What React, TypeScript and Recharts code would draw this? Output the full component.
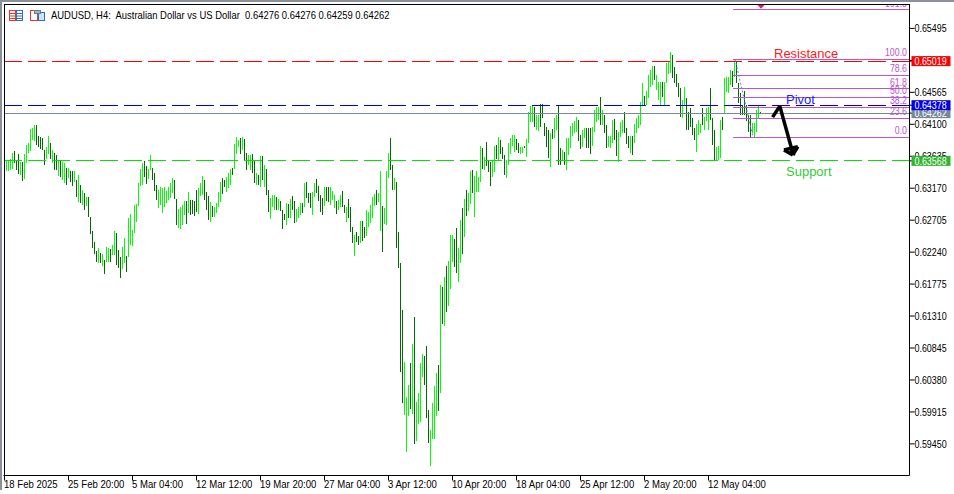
import React from 'react';
import {
  Bar,
  Cell,
  ComposedChart,
  ReferenceDot,
  ReferenceLine,
  XAxis,
  YAxis,
} from 'recharts';

// bar tops and bottoms in points (1 point = 0.00001), oldest first
const HIGH_POINTS = [
  63581, 63581, 63595, 63682, 63711, 63581, 63668, 63552, 63552, 63668,
  63798, 63827, 64030, 64045, 64088, 64088, 63929, 63914, 63900, 63726,
  63769, 63929, 63827, 63726, 63682, 63653, 63581, 63566, 63552, 63537,
  63465, 63465, 63421, 63421, 63421, 63291, 63363, 63218, 63146, 63102,
  63044, 63044, 62754, 62551, 62392, 62261, 62305, 62232, 62218, 62131,
  62319, 62305, 62290, 62348, 62551, 62522, 62276, 62174, 62319, 62450,
  62189, 62740, 62798, 62566, 62928, 62943, 63247, 63450, 63537, 63566,
  63494, 63450, 63653, 63465, 63392, 63218, 63146, 63189, 63175, 63189,
  63131, 63189, 63247, 63320, 63291, 63015, 62870, 62899, 62928, 62986,
  62986, 63117, 63001, 63001, 62986, 63146, 63175, 63247, 63349, 63291,
  63117, 63059, 62972, 62914, 62899, 62957, 63117, 63262, 63320, 63291,
  63334, 63392, 63450, 63465, 63813, 63914, 63871, 63900, 63914, 63885,
  63682, 63653, 63653, 63668, 63581, 63392, 63363, 63639, 63639, 63508,
  63450, 63146, 63030, 63073, 63073, 63044, 63015, 62986, 62856, 62798,
  62957, 62943, 63015, 63059, 62986, 62870, 62899, 62957, 62957, 63247,
  63262, 63102, 63102, 63117, 63247, 63305, 63204, 63073, 63030, 63189,
  63189, 63189, 63189, 63131, 63073, 62986, 63001, 63073, 63131, 62928,
  62899, 63015, 62899, 62609, 62493, 62537, 62479, 62696, 62696, 62609,
  62856, 62827, 62928, 63044, 63088, 63146, 63102, 63421, 62914, 62885,
  63421, 63682, 63900, 63508, 63320, 63262, 62537, 62087, 61391, 60637,
  60130, 60304, 60623, 60898, 61290, 60058, 60188, 60623, 60753, 60724,
  60869, 59941, 59651, 60043, 60289, 60478, 60594, 61768, 61739, 61884,
  62044, 62117, 62493, 62493, 62435, 62595, 62305, 62711, 62885, 63015,
  63146, 63102, 63421, 63436, 63349, 63421, 63334, 63784, 63755, 63624,
  63842, 63581, 63552, 63581, 63784, 63798, 63914, 63871, 63769, 63653,
  63581, 63827, 63900, 63943, 63943, 63885, 63827, 63769, 63769, 63784,
  63885, 64277, 64364, 64379, 64349, 64233, 64233, 64393, 64393, 64117,
  64059, 64016, 63972, 64030, 64190, 64233, 64364, 63755, 63726, 63697,
  63900, 63900, 64074, 64117, 64146, 64204, 64161, 63943, 64016, 64045,
  64045, 64045, 64045, 64059, 64306, 64349, 64349, 64494, 64306, 64233,
  64088, 63929, 63929, 64161, 64175, 64016, 63987, 64132, 64161, 64277,
  64045, 63929, 63929, 63929, 64103, 64190, 64233, 64422, 64697, 64509,
  64581, 64813, 64886, 64944, 64944, 64813, 64712, 64712, 64712, 64712,
  64987, 65016, 65147, 65103, 64929, 64828, 64697, 64625, 64451, 64639,
  64480, 64277, 64335, 64190, 64045, 64103, 64161, 64103, 64335, 64204,
  64335, 64349, 64625, 64190, 64016, 63769, 63784, 64161, 64204, 64770,
  64784, 64784, 64886, 64871, 65002, 65002, 64697, 64552, 64379, 64581,
  64379, 64233, 64233, 64117, 64117, 64306, 64379, 64276,
];
const LOW_POINTS = [
  63421, 63421, 63436, 63450, 63537, 63436, 63378, 63363, 63276, 63305,
  63537, 63682, 63711, 63871, 63856, 63798, 63769, 63740, 63726, 63508,
  63595, 63668, 63595, 63537, 63436, 63436, 63349, 63334, 63291, 63247,
  63218, 63320, 63262, 63204, 63262, 63044, 62972, 62957, 62928, 62856,
  62914, 62754, 62508, 62305, 62218, 62102, 62087, 62087, 62044, 61928,
  62102, 62102, 62102, 62203, 62203, 62058, 62015, 61870, 62000, 62087,
  61957, 62174, 62348, 62334, 62522, 62682, 62914, 63204, 63218, 63334,
  63233, 63305, 63436, 63291, 63131, 63001, 62885, 62928, 62812, 62899,
  62957, 63001, 63030, 63102, 63015, 62638, 62595, 62580, 62638, 62783,
  62653, 62812, 62783, 62798, 62769, 62827, 62798, 63059, 63073, 63001,
  62856, 62711, 62682, 62754, 62754, 62812, 62899, 62972, 63088, 63189,
  63117, 63175, 63218, 63363, 63450, 63668, 63769, 63668, 63726, 63566,
  63436, 63508, 63436, 63392, 63247, 63218, 63218, 63189, 63291, 63189,
  63073, 62827, 62725, 62899, 62856, 62856, 62856, 62841, 62580, 62711,
  62638, 62740, 62740, 62856, 62667, 62682, 62740, 62783, 62812, 62899,
  63030, 62957, 62885, 62783, 63044, 63102, 62986, 62827, 62783, 62914,
  62986, 62972, 62928, 63001, 62885, 62798, 62856, 62899, 62899, 62812,
  62682, 62740, 62537, 62377, 62189, 62392, 62348, 62377, 62406, 62450,
  62479, 62609, 62667, 62740, 62914, 62928, 62972, 62551, 62247, 62653,
  62638, 63320, 63436, 63146, 63146, 62305, 62015, 60492, 60043, 59869,
  59332, 59855, 59956, 59883, 59449, 59492, 59738, 59767, 60420, 60304,
  59826, 59463, 59130, 59521, 59521, 59855, 59927, 60188, 61189, 61159,
  61362, 61449, 61710, 62102, 62029, 61943, 61812, 62087, 62218, 62464,
  62769, 62841, 62943, 63102, 62754, 63117, 63117, 63262, 63450, 63436,
  63494, 63407, 63204, 63334, 63407, 63595, 63581, 63668, 63595, 63363,
  63320, 63508, 63668, 63784, 63697, 63726, 63682, 63668, 63682, 63755,
  63624, 63827, 64132, 64132, 64059, 64016, 64001, 64059, 64190, 63929,
  63769, 63610, 63479, 63885, 63900, 64016, 63508, 63508, 63581, 63508,
  63436, 63653, 63755, 63929, 63972, 63987, 63856, 63740, 63769, 63900,
  63755, 63755, 63668, 63784, 63987, 64132, 64161, 64088, 64088, 63972,
  63755, 63769, 63755, 63827, 63871, 63639, 63552, 63914, 63972, 63972,
  63813, 63755, 63682, 63653, 63827, 63972, 64045, 64088, 64379, 64379,
  64379, 64480, 64639, 64668, 64741, 64596, 64451, 64379, 64494, 64379,
  64697, 64828, 64842, 64770, 64697, 64639, 64494, 64204, 64190, 64379,
  64016, 64016, 64059, 63943, 63871, 63697, 63943, 63972, 64088, 64016,
  64146, 64016, 64161, 63798, 63581, 63581, 63581, 63610, 64016, 64262,
  64567, 64552, 64668, 64639, 64784, 64697, 64407, 64233, 64233, 64233,
  64146, 63987, 63915, 63972, 63915, 63987, 64190, 64259,
];
// 1 = bullish bar, 0 = bearish bar
const BAR_UP = [
  1, 1, 1, 1, 0, 0, 0, 1, 0, 1,
  1, 1, 1, 1, 1, 0, 0, 0, 0, 0,
  1, 1, 0, 1, 0, 0, 1, 0, 1, 1,
  0, 1, 0, 0, 1, 0, 1, 0, 1, 0,
  1, 0, 0, 0, 0, 0, 1, 0, 1, 0,
  1, 1, 0, 1, 1, 0, 0, 0, 1, 1,
  0, 1, 1, 1, 1, 1, 1, 1, 1, 0,
  0, 1, 1, 0, 0, 0, 1, 1, 1, 1,
  1, 1, 1, 1, 0, 0, 1, 1, 1, 1,
  0, 1, 0, 0, 0, 0, 1, 1, 1, 0,
  0, 0, 1, 0, 1, 1, 1, 1, 0, 0,
  1, 1, 1, 0, 1, 1, 1, 0, 1, 0,
  0, 1, 1, 0, 0, 1, 0, 1, 0, 1,
  0, 0, 1, 1, 1, 0, 1, 0, 0, 0,
  1, 0, 1, 0, 0, 1, 1, 1, 0, 1,
  0, 0, 0, 1, 1, 0, 0, 0, 0, 1,
  0, 0, 1, 1, 1, 0, 1, 1, 0, 0,
  1, 0, 0, 0, 1, 0, 0, 1, 0, 0,
  1, 1, 1, 1, 1, 0, 1, 1, 0, 1,
  1, 1, 0, 0, 1, 0, 0, 0, 0, 1,
  1, 1, 0, 1, 0, 1, 1, 1, 1, 0,
  0, 0, 1, 1, 1, 1, 0, 1, 0, 1,
  0, 1, 1, 1, 0, 0, 1, 1, 0, 1,
  0, 1, 1, 0, 1, 1, 1, 1, 0, 1,
  0, 0, 0, 1, 1, 0, 1, 0, 0, 0,
  1, 1, 1, 1, 1, 0, 0, 1, 1, 0,
  1, 1, 1, 1, 0, 1, 1, 0, 0, 0,
  0, 0, 1, 0, 1, 1, 0, 0, 1, 0,
  1, 1, 1, 1, 1, 1, 0, 0, 1, 1,
  0, 0, 0, 1, 1, 1, 1, 0, 1, 0,
  0, 1, 1, 1, 0, 0, 1, 1, 1, 0,
  0, 0, 1, 0, 1, 1, 1, 1, 1, 0,
  1, 1, 1, 1, 0, 1, 1, 1, 0, 1,
  1, 1, 1, 0, 0, 0, 0, 0, 1, 1,
  0, 0, 0, 0, 0, 1, 1, 1, 0, 1,
  1, 1, 0, 0, 0, 1, 1, 1, 0, 1,
  1, 1, 1, 0, 1, 0, 0, 0, 0, 0,
  0, 0, 0, 1, 1, 1, 1, 0,
];

const DATE_LABELS = [
  '18 Feb 2025', '25 Feb 20:00', '5 Mar 04:00', '12 Mar 12:00', '19 Mar 20:00', '27 Mar 04:00',
  '3 Apr 12:00', '10 Apr 20:00', '18 Apr 04:00', '25 Apr 12:00', '2 May 20:00', '12 May 04:00',
];
const BARS_PER_LABEL = 32;

const PRICE_TICKS = [
  0.65495, 0.6503, 0.64565, 0.641, 0.63635, 0.6317, 0.62705, 0.6224, 0.61775, 0.6131, 0.60845, 0.6038, 0.59915, 0.5945,
];

const BID = 0.64262;
const PIVOT = 0.64378;
const SUPPORT = 0.63568;
const RESISTANCE = 0.65019;
const PRICE_TAGS: Record<string, string> = {
  [BID]: '#778899',
  [PIVOT]: '#0000e6',
  [SUPPORT]: '#32b432',
  [RESISTANCE]: '#ff0000',
};

const FIB_LEVELS = [
  { label: '161.8', price: 0.6577 },
  { label: '100.0', price: 0.65046 },
  { label: '78.6', price: 0.64814 },
  { label: '61.8', price: 0.64615 },
  { label: '50.0', price: 0.6449 },
  { label: '38.2', price: 0.6435 },
  { label: '23.6', price: 0.6419 },
  { label: '0.0', price: 0.63915 },
];
const FIB_START_BAR = 364;
const FIB_TREND = [
  { x: 365, y: 0.65046 },
  { x: 374, y: 0.63915 },
];

const ARROW_SEGMENTS = [
  [{ x: 383.8, y: 0.64204 }, { x: 387.4, y: 0.64364 }],
  [{ x: 387.4, y: 0.64364 }, { x: 393.9, y: 0.63682 }],
  [{ x: 389.5, y: 0.63726 }, { x: 393.9, y: 0.63653 }],
  [{ x: 396.4, y: 0.63774 }, { x: 393.9, y: 0.63653 }],
  [{ x: 389.5, y: 0.63726 }, { x: 396.4, y: 0.63774 }],
  [{ x: 393.1, y: 0.6375 }, { x: 393.9, y: 0.63653 }],
];

const NOTES = [
  { text: 'Resistance', bar: 384.5, price: 0.65067, color: '#ff1a1a', size: 13 },
  { text: 'Pivot', bar: 390.5, price: 0.644, color: '#1a1aff', size: 13 },
  { text: 'Support', bar: 390.5, price: 0.63342, color: '#32cd32', size: 13 },
];

const X_DOMAIN = [-0.75, 452.25];
const FONT = '"Liberation Sans", Arial, sans-serif';
// the terminal font is narrower than anything installed, so labels are squeezed sideways
const DATE_SQUEEZE = 0.87;
const PRICE_SQUEEZE = 0.81;
const FIB_SQUEEZE = 0.8;
const UP_COLOR = '#00ff00';
const DOWN_COLOR = '#006b00';
const FIB_COLOR = '#ba55d3';

const chartData = HIGH_POINTS.map((high, i) => ({
  bar: i + 1,
  range: [LOW_POINTS[i] / 100000, high / 100000],
  up: BAR_UP[i] === 1,
}));

const priceTicks = [...PRICE_TICKS, BID, PIVOT, SUPPORT, RESISTANCE];
const dateTicks = DATE_LABELS.map((_, i) => i * BARS_PER_LABEL);

const SqueezedText = (props: any) => {
  const { x, y, squeeze, color, anchor, children } = props;
  return (
    <text
      transform={`translate(${x} ${y}) scale(${squeeze} 1)`}
      fontFamily={FONT}
      fontSize={11}
      fill={color}
      textAnchor={anchor || 'start'}
    >
      {children}
    </text>
  );
};

const DateTick = (props: any) => {
  const { x, y, payload } = props;
  return (
    <g>
      <line x1={x - 0.5} x2={x - 0.5} y1={y - 7} y2={y - 2} stroke="#000" />
      <SqueezedText x={x - 1} y={y + 5.5} squeeze={DATE_SQUEEZE} color="#000">
        {DATE_LABELS[payload.value / BARS_PER_LABEL]}
      </SqueezedText>
    </g>
  );
};

const PriceTick = (props: any) => {
  const { x, y, payload } = props;
  const tag = PRICE_TAGS[String(payload.value)];
  const label = payload.value.toFixed(5);
  return (
    <g>
      {tag && <rect x={x - 5} y={y - 5} width={39} height={10} fill={tag} />}
      <SqueezedText x={x - 2} y={y + 4} squeeze={PRICE_SQUEEZE} color={tag ? '#fff' : '#000'}>
        {label}
      </SqueezedText>
    </g>
  );
};

const FibLabel = (label: string) => (props: any) => (
  <SqueezedText x={props.cx} y={props.cy - 3} squeeze={FIB_SQUEEZE} color={FIB_COLOR} anchor="end">
    {label}
  </SqueezedText>
);

const NoteLabel = (note: { text: string; color: string; size: number }) => (props: any) => (
  <text x={props.cx} y={props.cy} fontFamily={FONT} fontSize={note.size} fill={note.color}>
    {note.text}
  </text>
);

const TriangleMark = (props: any) => (
  <polygon
    points={`${props.cx - 4.5},${props.cy - 2} ${props.cx + 4.5},${props.cy - 2} ${props.cx},${props.cy + 3}`}
    fill="#e6127f"
  />
);

const Icons = () => (
  <svg width={40} height={14} style={{ position: 'absolute', left: 8, top: 9 }}>
    <rect x={1.5} y={1.5} width={6} height={10} fill="#fff" stroke="#e8392c" />
    <rect x={8.5} y={1.5} width={6} height={10} fill="#fff" stroke="#2a6fc9" />
    <path d="M2 4.5h5M2 7h5M2 9.5h5" stroke="#e8392c" />
    <path d="M9 4.5h5M9 7h5M9 9.5h5" stroke="#2a6fc9" />
    <rect x={22.5} y={1.5} width={7} height={10} fill="#fff" stroke="#e8392c" />
    <rect x={30.5} y={3.5} width={6} height={8} fill="#cfe3f7" stroke="#2a6fc9" />
    <rect x={26.5} y={1.5} width={6} height={3} fill="#9fb4c8" stroke="#6b7c8c" />
  </svg>
);

export default function App() {
  return (
    <div
      style={{
        position: 'fixed',
        left: 0,
        top: 0,
        width: 954,
        height: 494,
        background: '#fff',
        overflow: 'hidden',
      }}
    >
      <ComposedChart
        width={954}
        height={494}
        data={chartData}
        margin={{ top: 4.5, right: 0, bottom: 0, left: 3.5 }}
      >
        <XAxis
          dataKey="bar"
          type="number"
          domain={X_DOMAIN}
          ticks={dateTicks}
          interval={0}
          height={18.5}
          tickSize={5}
          tickLine={false}
          stroke="#000"
          tick={DateTick}
          allowDataOverflow
        />
        <YAxis
          orientation="right"
          type="number"
          domain={[0.5899, 0.65843]}
          ticks={priceTicks}
          interval={0}
          width={44.5}
          tickSize={5}
          stroke="#000"
          tick={PriceTick}
          allowDataOverflow
        />
        <ReferenceLine y={BID} stroke="#778899" shapeRendering="crispEdges" />
        <ReferenceLine y={RESISTANCE} stroke="#ff0000" strokeDasharray="18 6" shapeRendering="crispEdges" />
        <ReferenceLine y={PIVOT} stroke="#0000e6" strokeDasharray="18 6" shapeRendering="crispEdges" />
        <Bar dataKey="range" barSize={1} shapeRendering="crispEdges" isAnimationActive={false}>
          {chartData.map((entry) => (
            <Cell key={entry.bar} fill={entry.up ? UP_COLOR : DOWN_COLOR} />
          ))}
        </Bar>
        <ReferenceLine y={SUPPORT} stroke="#00e600" strokeDasharray="18 6" shapeRendering="crispEdges" />
        {FIB_LEVELS.map((level) => (
          <ReferenceLine
            key={level.label}
            segment={[
              { x: FIB_START_BAR, y: level.price },
              { x: X_DOMAIN[1], y: level.price },
            ]}
            stroke={FIB_COLOR}
            shapeRendering="crispEdges"
          />
        ))}
        {FIB_LEVELS.map((level) => (
          <ReferenceDot
            key={`label-${level.label}`}
            x={451}
            y={level.price}
            r={0}
            ifOverflow="visible"
            shape={FibLabel(level.label)}
          />
        ))}
        <ReferenceLine segment={FIB_TREND} stroke="#6a7be0" strokeDasharray="2 2" />
        {ARROW_SEGMENTS.map((segment, i) => (
          <ReferenceLine key={i} segment={segment} stroke="#000" strokeWidth={3.5} />
        ))}
        {NOTES.map((note) => (
          <ReferenceDot key={note.text} x={note.bar} y={note.price} r={0} shape={NoteLabel(note)} />
        ))}
        <ReferenceDot x={378} y={0.65825} r={0} ifOverflow="visible" shape={TriangleMark} />
      </ComposedChart>

      {/* window chrome and title sit above the plot, the top strip clips the 161.8 label */}
      <div style={{ position: 'absolute', left: 0, top: 0, width: 954, height: 4, background: '#fff' }} />
      <div style={{ position: 'absolute', left: 0, top: 0, width: 954, height: 2, background: '#8a9099' }} />
      <div style={{ position: 'absolute', left: 0, top: 0, width: 2, height: 490, background: '#8a9099' }} />
      <div style={{ position: 'absolute', left: 4, top: 4, width: 906, height: 1, background: '#000' }} />
      <div style={{ position: 'absolute', left: 4, top: 4, width: 1, height: 472, background: '#000' }} />
      <Icons />
      <div
        style={{
          position: 'absolute',
          left: 51,
          top: 9,
          fontFamily: FONT,
          fontSize: 11,
          lineHeight: '13px',
          whiteSpace: 'pre',
          color: '#000',
          transform: 'scaleX(0.858)',
          transformOrigin: 'left top',
        }}
      >
        {'AUDUSD, H4:  Australian Dollar vs US Dollar  0.64276 0.64276 0.64259 0.64262'}
      </div>
    </div>
  );
}
